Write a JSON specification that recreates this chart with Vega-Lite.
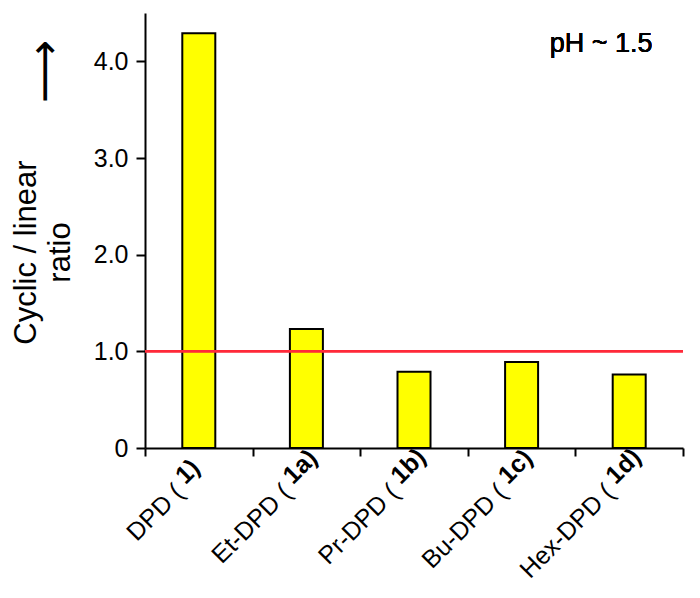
{
  "$schema": "https://vega.github.io/schema/vega-lite/v6.json",
  "autosize": {"type": "none"},
  "width": 538,
  "height": 435,
  "padding": {"left": 145, "top": 13, "right": 17, "bottom": 150},
  "background": "white",
  "config": {
    "view": {"stroke": null},
    "font": "Liberation Sans",
    "axis": {"grid": false, "labelColor": "black", "titleColor": "black", "domainColor": "black", "tickColor": "black", "labelFont": "Liberation Sans", "titleFont": "Liberation Sans"}
  },
  "data": {
    "values": [
      {"name": "DPD (1)", "ratio": 4.29},
      {"name": "Et-DPD (1a)", "ratio": 1.23},
      {"name": "Pr-DPD (1b)", "ratio": 0.79},
      {"name": "Bu-DPD (1c)", "ratio": 0.89},
      {"name": "Hex-DPD (1d)", "ratio": 0.76}
    ]
  },
  "layer": [
    {
      "mark": {"type": "bar", "fill": "#ffff00", "stroke": "black", "strokeWidth": 2, "width": 33},
      "encoding": {
        "x": {
          "field": "name", "type": "nominal", "sort": null,
          "scale": {"paddingInner": 0, "paddingOuter": 0},
          "axis": {
            "orient": "bottom", "title": null, "domainWidth": 2, "tickBand": "extent", "tickSize": 8, "tickWidth": 2,
            "labelAngle": -45, "labelAlign": "right", "labelBaseline": "middle", "labelFontSize": 25, "labelFontWeight": "normal",
            "labelExpr": "slice(datum.label, 0, indexof(datum.label, '(') + 1)",
            "labelOffset": -20, "labelPadding": 32,
            "labelOverlap": false
          }
        },
        "y": {
          "field": "ratio", "type": "quantitative",
          "scale": {"domain": [0, 4.5], "nice": false, "zero": true},
          "axis": {
            "values": [0, 1, 2, 3, 4],
            "labelExpr": "datum.value == 0 ? '0' : format(datum.value, '.1f')",
            "labelFontSize": 25, "labelFontWeight": "normal", "labelPadding": 8, "tickSize": 9, "tickWidth": 2, "domainWidth": 2,
            "title": ["Cyclic / linear", "ratio"], "titleFontSize": 31, "titleFontWeight": "normal",
            "titleLineHeight": 34, "titleAngle": -90, "titleAlign": "center", "titleBaseline": "alphabetic",
            "titleX": -110, "titleY": 239
          }
        }
      }
    },
    {
      "mark": {"type": "bar", "opacity": 0, "width": 33},
      "encoding": {
        "x": {
          "field": "name", "type": "nominal", "sort": null,
          "axis": {
            "orient": "bottom", "title": null, "domain": false, "ticks": false, "tickSize": 8,
            "labelAngle": -45, "labelAlign": "left", "labelBaseline": "middle", "labelFontSize": 25, "labelFontWeight": "bold",
            "labelExpr": "slice(datum.label, indexof(datum.label, '(') + 1)",
            "labelOffset": -19, "labelPadding": 31, "labelOverlap": false
          }
        },
        "y": {
          "field": "ratio", "type": "quantitative",
          "axis": {
            "orient": "left", "labels": false, "ticks": false, "domain": false,
            "title": "⟶", "titleFont": "DejaVu Sans", "titleFontSize": 44, "titleFontWeight": "normal",
            "titleAngle": -90, "titleAlign": "center", "titleBaseline": "middle", "titleX": -100, "titleY": 58
          }
        }
      }
    },
    {
      "mark": {"type": "rule", "color": "#ff2a3a", "strokeWidth": 2},
      "encoding": {"y": {"datum": 1, "type": "quantitative", "axis": null}}
    },
    {
      "mark": {"type": "text", "text": "pH ~ 1.5", "fontSize": 27, "fontWeight": "normal", "font": "Liberation Sans", "align": "center", "baseline": "alphabetic", "dx": -28, "color": "black"},
      "encoding": {
        "x": {"datum": "Hex-DPD (1d)", "type": "nominal", "axis": null},
        "y": {"datum": 4.1, "type": "quantitative", "axis": null}
      }
    }
  ],
  "resolve": {"axis": {"x": "independent", "y": "independent"}}
}
